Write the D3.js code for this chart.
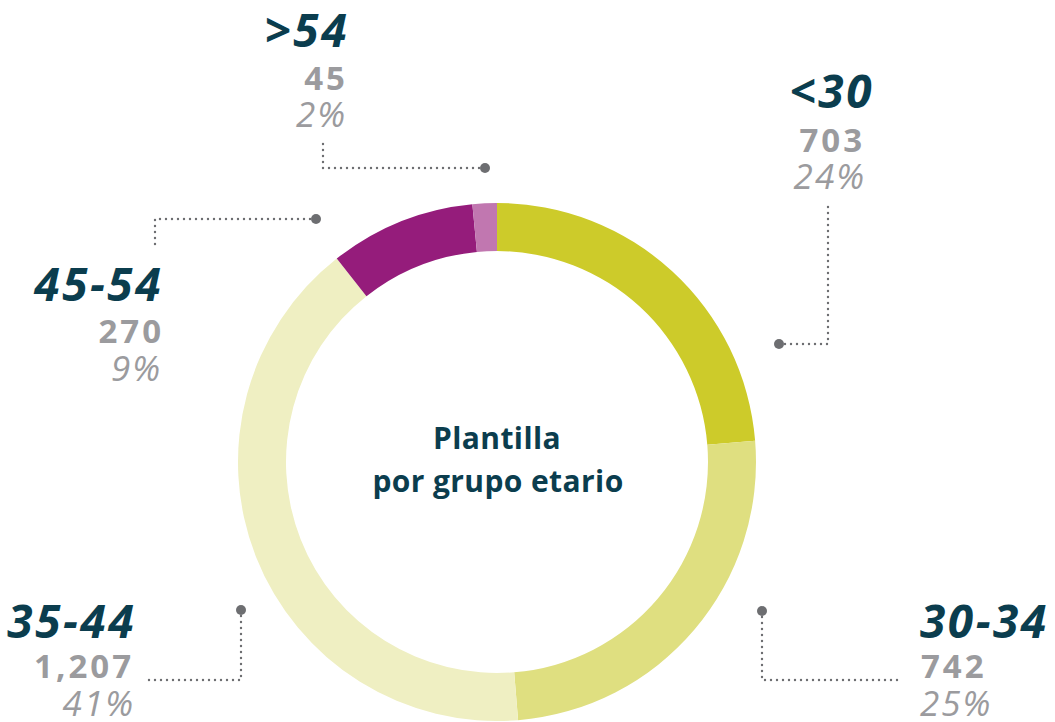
<!DOCTYPE html>
<html>
<head>
<meta charset="utf-8">
<script src="https://cdn.jsdelivr.net/npm/d3@7"></script>
<style>
  body { margin: 0; background: #fff; }
  text { font-family: "Open Sans", "Noto Sans", sans-serif; }
</style>
</head>
<body>
<script>
var categories = ["<30", "30-34", "35-44", "45-54", ">54"];
var counts = [703, 742, 1207, 270, 45];
var countLabels = ["703", "742", "1,207", "270", "45"];
var pctLabels = ["24%", "25%", "41%", "9%", "2%"];
var colors = ["#cdcb2a", "#dfdf80", "#efefc2", "#951c7b", "#c177b0"];

var width = 1055, height = 722;
var cx = 497, cy = 462;
var outerR = 259, innerR = 211;

var dark = "#0b3d4e", grey = "#9b9b9e", leader = "#6d6e71";

// label placement: dot, elbow, end of leader, text anchor and baselines
var layout = [
  {dot: [779, 344], elbow: [828, 344], end: [828, 205], anchor: "end", x: [874, 865, 866], y: [108, 152, 189]},
  {dot: [762, 611], elbow: [762, 680], end: [900, 680], anchor: "start", x: [920, 921, 920], y: [638, 678, 716]},
  {dot: [241, 610], elbow: [241, 680], end: [148, 680], anchor: "end", x: [136, 134, 135], y: [638, 678, 716]},
  {dot: [316, 219], elbow: [155, 219], end: [155, 246], anchor: "end", x: [163, 164, 162], y: [301, 343, 381]},
  {dot: [485, 168], elbow: [323, 168], end: [323, 140], anchor: "end", x: [349, 348, 347], y: [47, 90, 127]}
];

var svg = d3.select("body").append("svg")
  .attr("width", width).attr("height", height);

var pie = d3.pie().sort(null).value(function(d) { return d; });
var arc = d3.arc().innerRadius(innerR).outerRadius(outerR);

var ring = svg.append("g").attr("transform", "translate(" + cx + "," + cy + ")");
ring.selectAll("path")
  .data(pie(counts))
  .enter().append("path")
  .attr("d", arc)
  .attr("fill", function(d, i) { return colors[i]; });

// centre title
var title = svg.append("text")
  .attr("text-anchor", "middle")
  .attr("fill", dark)
  .attr("font-weight", 700)
  .attr("font-size", 30)
  .attr("letter-spacing", 0.4);
title.append("tspan").attr("x", cx).attr("y", 449).text("Plantilla");
title.append("tspan").attr("x", cx + 1).attr("y", 492).text("por grupo etario");

// leaders
var line = d3.line();
var labels = svg.append("g");
categories.forEach(function(c, i) {
  var L = layout[i];
  labels.append("path")
    .attr("d", line([L.dot, L.elbow, L.end]))
    .attr("fill", "none")
    .attr("stroke", leader)
    .attr("stroke-width", 2.4)
    .attr("stroke-linecap", "round")
    .attr("stroke-dasharray", "0 6");
  labels.append("circle")
    .attr("cx", L.dot[0]).attr("cy", L.dot[1])
    .attr("r", 5)
    .attr("fill", leader);

  labels.append("text")
    .attr("x", L.x[0]).attr("y", L.y[0])
    .attr("text-anchor", L.anchor)
    .attr("fill", dark)
    .attr("font-size", 46)
    .attr("font-weight", 700)
    .attr("font-style", "italic")
    .attr("letter-spacing", 2.5)
    .text(c);
  labels.append("text")
    .attr("x", L.x[1]).attr("y", L.y[1])
    .attr("text-anchor", L.anchor)
    .attr("fill", grey)
    .attr("font-size", 33)
    .attr("font-weight", 700)
    .attr("letter-spacing", 3)
    .text(countLabels[i]);
  labels.append("text")
    .attr("x", L.x[2]).attr("y", L.y[2])
    .attr("text-anchor", L.anchor)
    .attr("fill", grey)
    .attr("font-size", 35)
    .attr("font-style", "italic")
    .attr("letter-spacing", 2)
    .text(pctLabels[i]);
});
</script>
</body>
</html>
